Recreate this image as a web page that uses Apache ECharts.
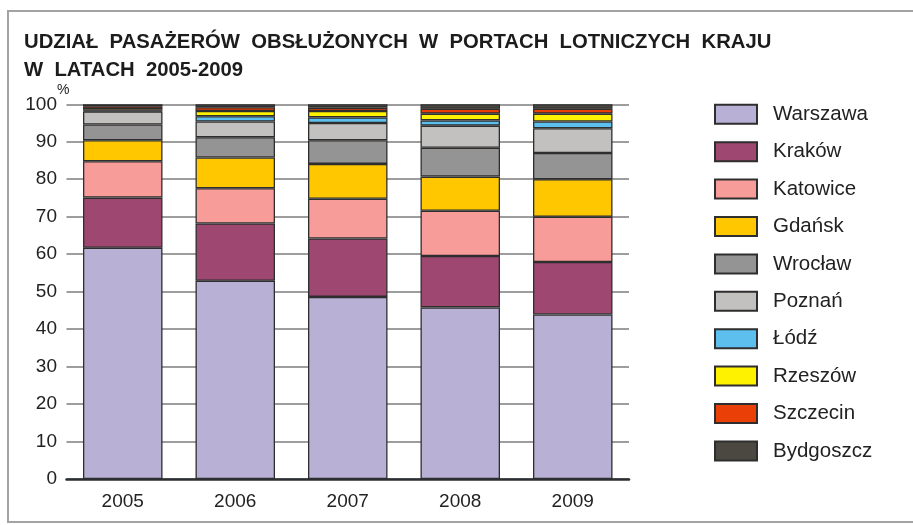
<!DOCTYPE html>
<html>
<head>
<meta charset="utf-8">
<script src="https://cdn.jsdelivr.net/npm/echarts@6/dist/echarts.min.js"></script>
<style>
  html, body { margin: 0; padding: 0; background: #fff; }
  #chart { width: 913px; height: 525px; }
</style>
</head>
<body>
<div id="chart"></div>
<script>
// shares of passengers, % per year
var years = ['2005', '2006', '2007', '2008', '2009']
var warszawa = [61.7, 52.9, 48.6, 45.8, 43.9]
var krakow = [13.4, 15.3, 15.6, 13.7, 14.0]
var katowice = [9.7, 9.4, 10.6, 12.1, 12.1]
var gdansk = [5.6, 8.2, 9.3, 9.1, 10.0]
var wroclaw = [4.2, 5.4, 6.3, 7.7, 7.0]
var poznan = [3.5, 4.2, 4.6, 5.9, 6.6]
var lodz = [0.2, 1.4, 1.5, 1.4, 1.8]
var rzeszow = [0.4, 1.4, 1.7, 1.8, 2.1]
var szczecin = [0.8, 1.0, 0.9, 1.3, 1.3]
var bydgoszcz = [0.5, 0.8, 0.9, 1.2, 1.2]
var yTicks = [0, 10, 20, 30, 40, 50, 60, 70, 80, 90, 100]

var cities = [
  { name: 'Warszawa', data: warszawa, color: '#b9b0d6' },
  { name: 'Kraków', data: krakow, color: '#9e4770' },
  { name: 'Katowice', data: katowice, color: '#f89c9a' },
  { name: 'Gdańsk', data: gdansk, color: '#fec700' },
  { name: 'Wrocław', data: wroclaw, color: '#949494' },
  { name: 'Poznań', data: poznan, color: '#c2c1bf' },
  { name: 'Łódź', data: lodz, color: '#5cbfee' },
  { name: 'Rzeszów', data: rzeszow, color: '#fff200' },
  { name: 'Szczecin', data: szczecin, color: '#ea3f06' },
  { name: 'Bydgoszcz', data: bydgoszcz, color: '#4b4841' }
]

var font = '"Liberation Sans", Arial, sans-serif'

var chart = echarts.init(document.getElementById('chart'), null, { renderer: 'canvas' })

var series = cities.map(function (c) {
  return {
    name: c.name,
    type: 'bar',
    stack: 'all',
    barWidth: 79.5,
    data: c.data,
    itemStyle: {
      color: c.color,
      borderColor: '#2e2e2e',
      borderWidth: 1.3
    },
    emphasis: { disabled: true }
  }
})

var option = {
  animation: false,
  backgroundColor: '#fff',
  title: {
    text: 'UDZIAŁ  PASAŻERÓW  OBSŁUŻONYCH  W  PORTACH  LOTNICZYCH  KRAJU\nW  LATACH  2005-2009',
    left: 24,
    top: 28,
    padding: [0, 0, 0, 0],
    textStyle: {
      fontFamily: font,
      fontWeight: 'bold',
      fontSize: 20.3,
      lineHeight: 28,
      color: '#1c1c1c'
    }
  },
  legend: {
    orient: 'vertical',
    left: 709,
    top: 98.8,
    itemWidth: 42,
    itemHeight: 19,
    itemGap: 16.4,
    icon: 'rect',
    selectedMode: false,
    textStyle: {
      fontFamily: font,
      fontSize: 20.5,
      color: '#222',
      padding: [0, 0, 0, 11]
    },
    data: cities.map(function (c) { return c.name })
  },
  grid: {
    left: 66.5,
    right: 284,
    top: 104.3,
    bottom: 46
  },
  xAxis: {
    type: 'category',
    data: years,
    axisLine: { lineStyle: { color: '#2b2f33', width: 2.5 } },
    axisTick: { show: false },
    axisLabel: {
      margin: 13,
      fontFamily: font,
      fontSize: 19,
      color: '#222'
    }
  },
  yAxis: {
    type: 'value',
    min: yTicks[0],
    max: yTicks[yTicks.length - 1],
    interval: 10,
    axisLine: { show: false },
    axisTick: { show: false },
    axisLabel: {
      margin: 9.5,
      fontFamily: font,
      fontSize: 19,
      color: '#222'
    },
    splitLine: { lineStyle: { color: '#7d7d7d', width: 1.5 } }
  },
  graphic: [
    {
      type: 'rect',
      silent: true,
      shape: { x: 8, y: 11, width: 930, height: 511 },
      style: { fill: null, stroke: '#a3a3a3', lineWidth: 2 }
    },
    {
      type: 'text',
      left: 57,
      top: 83,
      style: { text: '%', font: '14px ' + font, fill: '#222' }
    }
  ],
  series: series
}

chart.setOption(option)
</script>
</body>
</html>
